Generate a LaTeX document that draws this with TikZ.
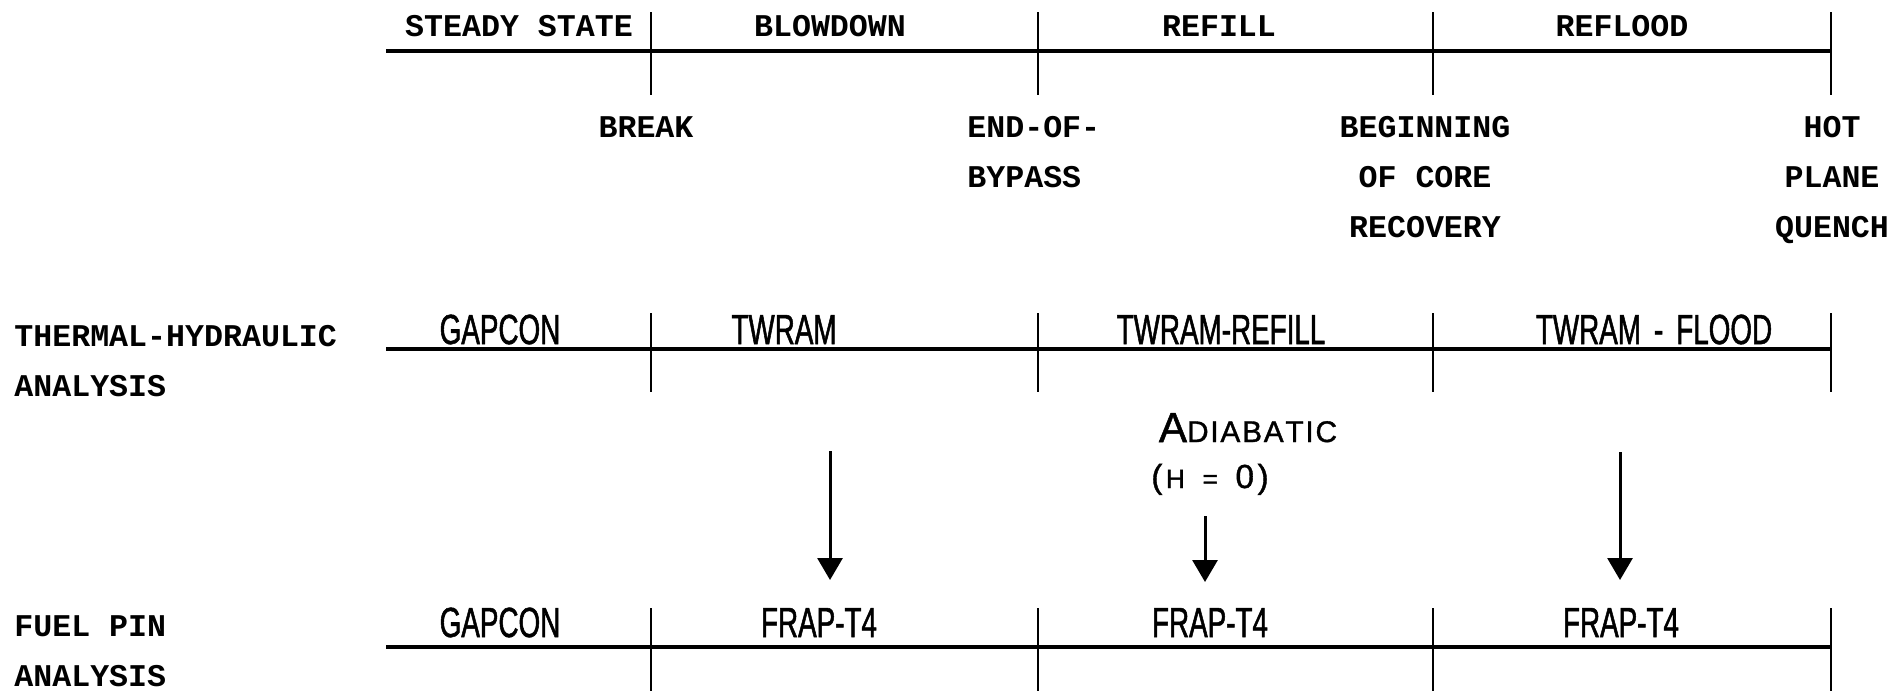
\documentclass[tikz,border=0pt]{standalone}
\usepackage{fontspec}
\usetikzlibrary{arrows.meta,positioning}
\newfontfamily\typefont{Liberation Mono}
\newfontfamily\codefont[FakeStretch=0.66,FakeBold=1.2]{Liberation Sans}
\newfontfamily\notefont[FakeBold=1.2]{Liberation Sans}

\begin{document}
\begin{tikzpicture}[
    x=0.02cm, y=-0.02cm,
    >={Triangle[length=0.44cm,width=0.5cm]},
    mainline/.style={line width=1.9pt},
    tick/.style={line width=1.1pt},
    flow/.style={->, line width=1.7pt},
    phase/.style={
        font=\typefont\bfseries\fontsize{18}{28.5}\selectfont,
        inner sep=0pt
    },
    event/.style={phase, align=center, anchor=north},
    code/.style={
        font=\codefont\fontsize{24}{24}\selectfont,
        inner sep=0pt,
        anchor=base
    }
]
\useasboundingbox (0,0) rectangle (1890,691);

% =====================
% TIME SCALES
% =====================
\foreach \row/\y/\up/\dn in {time/51/39/44, th/349/36/43, fp/647/39/44} {
    \coordinate (\row-0) at (386,\y);
    \foreach \x [count=\i] in {651,1038,1433,1831}
        \coordinate (\row-\i) at (\x,\y);
    \draw[mainline] (\row-0) -- (\row-4);
    \foreach \i in {1,...,4}
        \draw[tick] (\row-\i) ++(0,-\up) -- ++(0,{\up+\dn});
}

% =====================
% PHASES
% =====================
\node[phase, anchor=base] (steady) at (519,36) {STEADY STATE};
\node[phase, anchor=base] (blow) at (830,36) {BLOWDOWN};
\node[phase, anchor=base] (refill) at (1219,36) {REFILL};
\node[phase, anchor=base] (reflood) at (1622,36) {REFLOOD};

% events below the ticks
\node[event] (brk) at (646,116) {BREAK};
\node[event, anchor=north west, align=left] (eob) at (967,116) {END-OF-\\BYPASS};
\node[event] (bocr) at (1425,116) {BEGINNING\\OF CORE\\RECOVERY};
\node[event] (hpq) at (1832,116) {HOT\\PLANE\\QUENCH};

% =====================
% ROWS
% =====================
\node[phase, anchor=north west, align=left] (thlab) at (14,325) {THERMAL-HYDRAULIC\\ANALYSIS};
\node[phase, anchor=north west, align=left] (fplab) at (14,615) {FUEL PIN\\ANALYSIS};

% thermal-hydraulic codes
\node[code] (th1) at (500,344) {GAPCON};
\node[code] (th2) at (784,344) {TWRAM};
\node[code] (th3) at (1221,344) {TWRAM-REFILL};
\node[code] (th4) at (1654,344) {TWRAM\hspace{3pt} - \hspace{3pt}FLOOD};

% fuel pin codes
\node[code] (fp1) at (500,637) {GAPCON};
\node[code] (fp2) at (819,637) {FRAP-T4};
\node[code] (fp3) at (1210,637) {FRAP-T4};
\node[code] (fp4) at (1621,637) {FRAP-T4};

% adiabatic note
\node[inner sep=0pt, anchor=base, font=\notefont] (adia) at (1248,442)
    {{\fontsize{24}{24}\selectfont A}{\fontsize{17}{17}\selectfont D\kern1pt I\kern1pt A\kern1pt B\kern1pt A\kern1pt T\kern1pt I\kern1pt C}};
\node[inner sep=0pt, anchor=base, font=\notefont] (hzero) at (1210,488)
    {{\fontsize{19}{19}\selectfont (}\kern2pt{\fontsize{15}{15}\selectfont H\hspace{10pt}=}\hspace{10pt}{\fontsize{19}{19}\selectfont 0\kern2pt)}};

% =====================
% TRANSFERS
% =====================
\coordinate (a1s) at (830,451);
\coordinate (a1e) at (830,580);
\coordinate (a2s) at (1205,516);
\coordinate (a2e) at (1205,582);
\coordinate (a3s) at (1620,452);
\coordinate (a3e) at (1620,580);

\draw[flow] (a1s) -- (a1e);
\draw[flow] (a2s) -- (a2e);
\draw[flow] (a3s) -- (a3e);

\end{tikzpicture}
\end{document}
